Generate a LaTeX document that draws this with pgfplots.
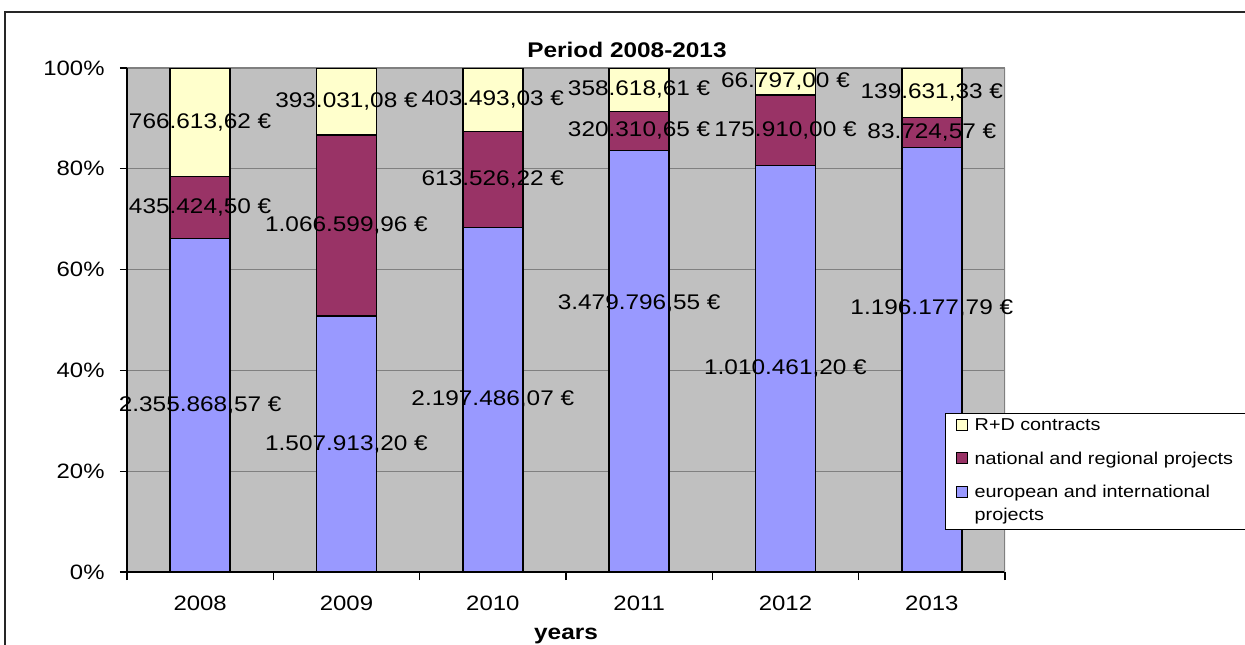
\documentclass[border=0pt]{standalone}
\usepackage{fontspec}
\setmainfont{Liberation Sans}[FakeStretch=1.15]
\usepackage{pgfplots}
\usepackage{pgfplotstable}
\pgfplotsset{compat=1.18}
\definecolor{bgray}{HTML}{C0C0C0}
\definecolor{cblue}{HTML}{9999FF}
\definecolor{cred}{HTML}{993366}
\definecolor{cyel}{HTML}{FFFFCC}
\definecolor{gridc}{HTML}{808080}

% b, r, y: shares in % of the yearly total; bp: height of the blue label
\pgfplotstableread[col sep=semicolon]{
x;b;r;y;bp;lb;lr;ly
0;66.215;12.238;21.547;33.108;2.355.868,57 €;435.424,50 €;766.613,62 €
1;50.814;35.942;13.244;25.407;1.507.913,20 €;1.066.599,96 €;393.031,08 €
2;68.362;19.086;12.552;34.181;2.197.486,07 €;613.526,22 €;403.493,03 €
3;83.675;7.702;8.623;53.2;3.479.796,55 €;320.310,65 €;358.618,61 €
4;80.633;14.037;5.330;40.317;1.010.461,20 €;175.910,00 €;66.797,00 €
5;84.266;5.898;9.836;52.2;1.196.177,79 €;83.724,57 €;139.631,33 €
}\data

\begin{document}
\begin{tikzpicture}
\useasboundingbox (-63.5pt,-36pt) rectangle (559pt,286pt);
\begin{axis}[
  at={(0,0)}, anchor=south west,
  scale only axis, width=439pt, height=252pt,
  ybar stacked, bar width=30pt,
  xmin=-0.5, xmax=5.5, ymin=0, ymax=100,
  xtick={0,...,5}, xticklabels={2008,2009,2010,2011,2012,2013},
  minor xtick={-0.5,0.5,...,5.5},
  ytick={0,20,...,100},
  yticklabel={\pgfmathprintnumber{\tick}\%},
  /pgf/number format/assume math mode=true,
  axis x line*=bottom, axis y line*=left,
  axis line style={black, line width=0.6pt},
  tick align=outside,
  major tick length=3.5pt, minor tick length=4pt,
  major x tick style={draw=none},
  minor x tick style={black, line width=0.6pt},
  ytick style={black, line width=0.6pt},
  ymajorgrids, major grid style={gridc, line width=0.6pt},
  axis background/.style={fill=bgray},
  tick label style={font=\fontsize{10.4}{12}\selectfont},
  xticklabel style={yshift=-4.7pt},
  yticklabel style={xshift=-4.2pt},
  reverse legend,
  legend style={at={(axis description cs:0.9317,0.3155)}, anchor=north west,
    draw=black, fill=white, line width=0.5pt,
    font=\fontsize{8.6}{11.5}\selectfont,
    cells={anchor=base west, align=left},
    /tikz/every odd column/.append style={column sep=1.5pt},
    row sep=5pt, inner xsep=5pt, inner ysep=0.8pt},
  legend image code/.code={\draw[#1, draw=black, line width=0.5pt] (0pt,0.3pt) rectangle (5.6pt,5.9pt);},
]
\addplot[fill=cblue, draw=black, line width=0.75pt,
  legend image code/.code={\draw[fill=cblue, draw=black, line width=0.5pt] (0pt,11.8pt) rectangle (5.6pt,17.4pt);}]
  table[x=x,y=b]{\data};
\addlegendentry{european and international\\projects}
\addplot[fill=cred, draw=black, line width=0.75pt] table[x=x,y=r]{\data};
\addlegendentry{national and regional projects}
\addplot[fill=cyel, draw=black, line width=0.75pt] table[x=x,y=y]{\data};
\addlegendentry{R+D contracts\rule[-6pt]{0pt}{0pt}}
\draw[gridc, line width=0.6pt] (rel axis cs:1,0) -- (rel axis cs:1,1);
\end{axis}
\begin{axis}[
  at={(0,0)}, anchor=south west,
  scale only axis, width=439pt, height=252pt,
  xmin=-0.5, xmax=5.5, ymin=0, ymax=100,
  hide axis, clip=false,
  nodes near coords, point meta=explicit symbolic,
  every node near coord/.append style={anchor=center, font=\fontsize{10.6}{12}\selectfont, text=black},
]
\addplot[draw=none, mark=none] table[x=x, y=bp, meta=lb]{\data};
\addplot[draw=none, mark=none] table[x=x, y expr=\thisrow{b}+\thisrow{r}/2, meta=lr]{\data};
\addplot[draw=none, mark=none] table[x=x, y expr=\thisrow{b}+\thisrow{r}+\thisrow{y}/2, meta=ly]{\data};
\node[font=\bfseries\fontsize{10.6}{12}\selectfont, anchor=base] at (axis description cs:0.5695,1.0218) {Period 2008-2013};
\node[font=\bfseries\fontsize{10.6}{12}\selectfont, anchor=base] at (axis description cs:0.5,-0.133) {years};
\end{axis}
\draw[line width=1.2pt, black!85] (-61pt,-60pt) rectangle (580pt,280pt);
\end{tikzpicture}
\end{document}
